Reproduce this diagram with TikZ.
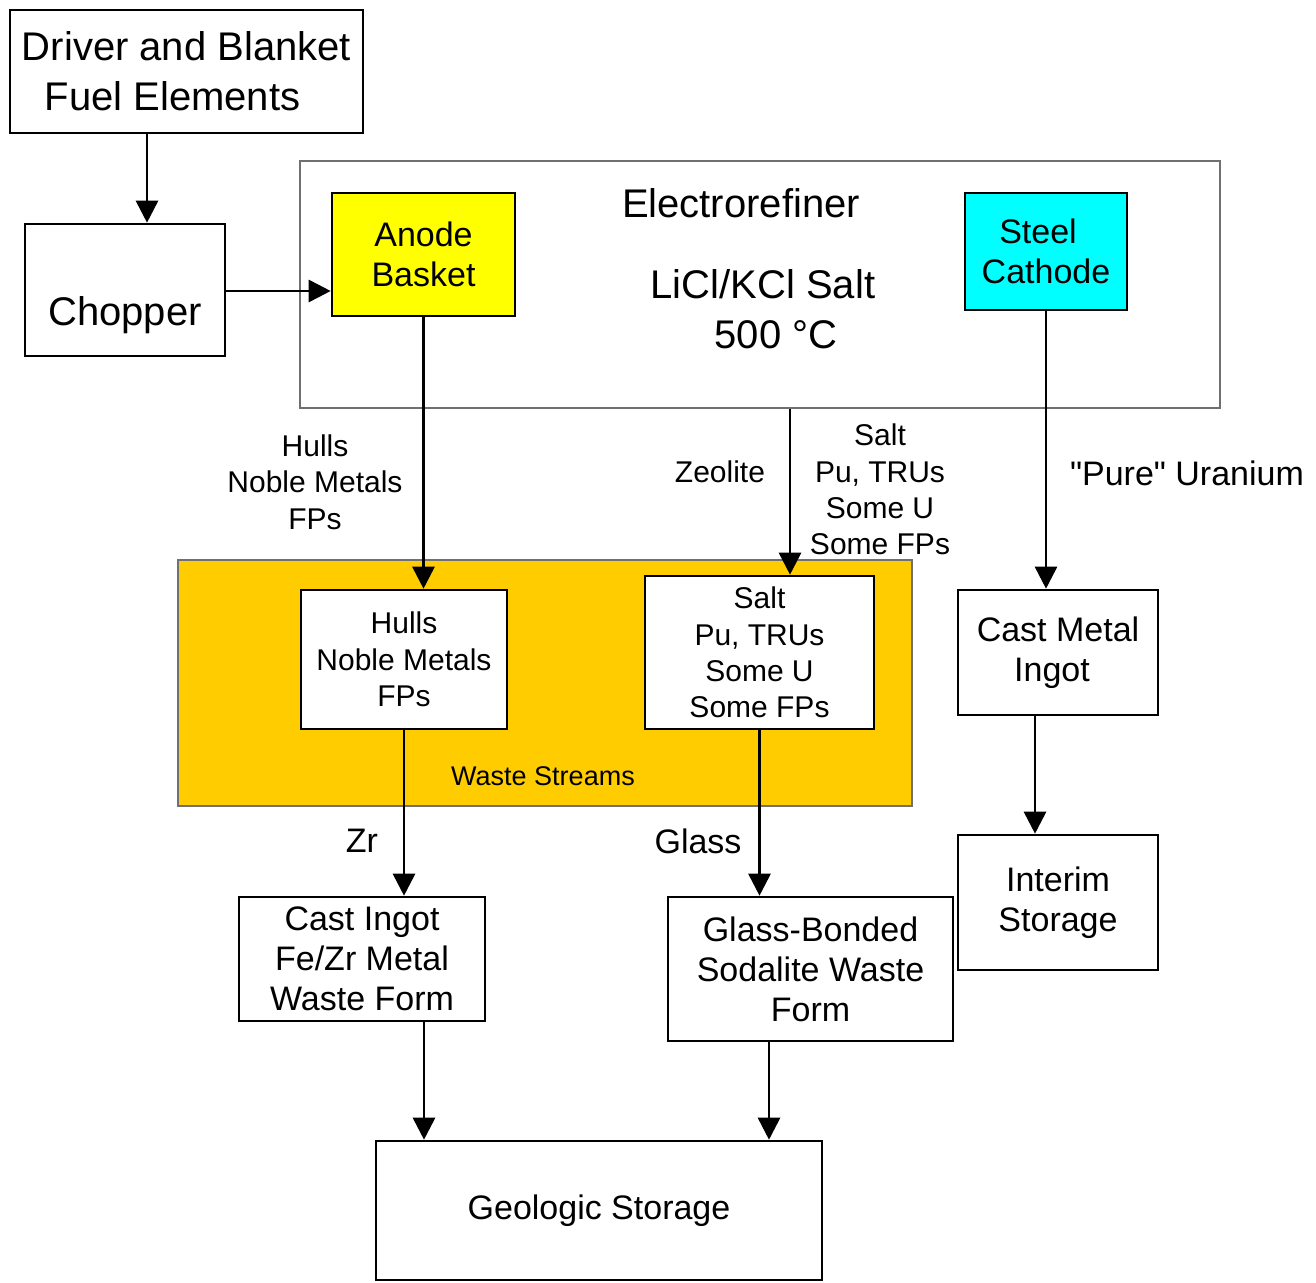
\documentclass[tikz,border=0pt]{standalone}
\usepackage{fontspec}
\setmainfont{Liberation Sans}
\newfontfamily\plainquote{Liberation Sans}
\usetikzlibrary{arrows.meta}
\definecolor{wastecol}{HTML}{FFCC00}
\definecolor{anodecol}{HTML}{FFFF00}
\definecolor{cathcol}{HTML}{00FFFF}
\definecolor{frame}{HTML}{707070}
\tikzset{
  box/.style={draw=black, line width=1.3pt, fill=white, inner sep=0pt, align=center},
  bigtxt/.style={font=\fontsize{20}{25}\selectfont, align=center},
  medtxt/.style={font=\fontsize{17}{20}\selectfont, align=center},
  smalltxt/.style={font=\fontsize{15}{18.2}\selectfont, align=center},
  tinytxt/.style={font=\fontsize{13.5}{16}\selectfont, align=center},
  arr/.style={line width=1.4pt, -{Triangle[width=11pt,length=11pt]}},
}
\begin{document}
\begin{tikzpicture}[x=0.5pt,y=-0.5pt]
\useasboundingbox[fill=white] (0,0) rectangle (1316,1283);

% Containers
\node[draw=frame, line width=1pt, fill=white, minimum width=460pt, minimum height=123.5pt, inner sep=0pt] (electro) at (760,284.5) {};
\node[draw=frame, line width=1pt, fill=wastecol, minimum width=367pt, minimum height=123pt, inner sep=0pt] (waste) at (545,683) {};

% Boxes
\node[box, bigtxt, minimum width=176.5pt, minimum height=61.5pt] (driver) at (186.5,71.5) {Driver and Blanket\\Fuel Elements\hspace*{14pt}};
\node[box, minimum width=100pt, minimum height=66pt] (chopper) at (125,290) {};
\node[bigtxt] (choppert) at (125,315) {Chopper};

\node[bigtxt] (electrot) at (741,203) {Electrorefiner};
\node[bigtxt] (saltt) at (763,309) {LiCl/KCl Salt\\\hspace*{13pt}500 °C};

\node[box, medtxt, fill=anodecol, minimum width=91.5pt, minimum height=61.5pt] (anode) at (423.5,254.5) {Anode\\Basket};
\node[box, medtxt, fill=cathcol, minimum width=81pt, minimum height=58.5pt] (cathode) at (1046,251.5) {Steel\hspace*{8pt}\\Cathode};

\node[box, smalltxt, minimum width=103pt, minimum height=69.5pt] (hulls) at (404,659.5) {Hulls\\Noble Metals\\FPs};
\node[box, smalltxt, minimum width=114.5pt, minimum height=76.5pt] (salt) at (759.5,652.5) {Salt\\Pu, TRUs\\Some U\\Some FPs};
\node[tinytxt] (wastet) at (543,776) {Waste Streams};

\node[box, medtxt, minimum width=100pt, minimum height=62.5pt] (castmetal) at (1058,652.5) {Cast Metal\\Ingot\hspace*{6pt}};
\node[box, medtxt, minimum width=100pt, minimum height=67.5pt] (interim) at (1058,902.5) {Interim\\Storage};

\node[box, medtxt, minimum width=123pt, minimum height=62pt] (castingot) at (362,959) {Cast Ingot\\Fe/Zr Metal\\Waste Form};
\node[box, medtxt, minimum width=142.5pt, minimum height=72pt] (glass) at (810.5,969) {Glass-Bonded\\Sodalite Waste\\Form};
\node[box, medtxt, minimum width=223pt, minimum height=69.5pt] (geo) at (599,1210.5) {Geologic Storage};

% Edge labels
\node[smalltxt] (lhulls) at (315,482) {Hulls\\Noble Metals\\FPs};
\node[smalltxt] (lzeo) at (720,472) {Zeolite};
\node[smalltxt] (lsalt) at (880,489.5) {Salt\\Pu, TRUs\\Some U\\Some FPs};
\node[medtxt] (lpure) at (1187,473) {{\plainquote"}Pure{\plainquote"} Uranium};
\node[medtxt] (lzr) at (362,841) {Zr};
\node[medtxt] (lglass) at (698,841) {Glass};

% Connectors
\coordinate (xd) at (147,0);
\coordinate (yc) at (0,291);
\coordinate (xe) at (790,0);
\coordinate (xm) at (1035,0);
\coordinate (xg) at (424,0);
\coordinate (xs) at (769,0);
\draw[arr] (xd |- driver.south) -- (xd |- chopper.north);
\draw[arr] (chopper.east |- yc) -- (anode.west |- yc);
\draw[arr] (anode.south) -- (anode.south |- hulls.north);
\draw[arr] (xe |- electro.south) -- (xe |- salt.north);
\draw[arr] (cathode.south) -- (cathode.south |- castmetal.north);
\draw[arr] (xm |- castmetal.south) -- (xm |- interim.north);
\draw[arr] (hulls.south) -- (hulls.south |- castingot.north);
\draw[arr] (salt.south) -- (salt.south |- glass.north);
\draw[arr] (xg |- castingot.south) -- (xg |- geo.north);
\draw[arr] (xs |- glass.south) -- (xs |- geo.north);
\end{tikzpicture}
\end{document}
